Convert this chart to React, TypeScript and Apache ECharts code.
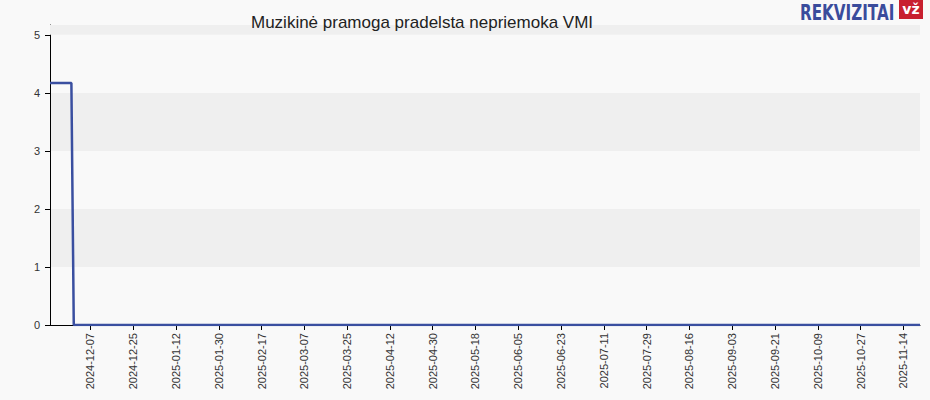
import React, { useEffect, useRef } from "react";
import * as echarts from "echarts";

const TITLE = "Muzikinė pramoga pradelsta nepriemoka VMI";
const START_DATE = "2024-11-20";
const END_DATE = "2025-11-21";
const FIRST_TICK_DATE = "2024-12-07";
const TICK_STEP_DAYS = 18;
// change points of the debt series [date, value]
const seriesPoints: [string, number][] = [
  ["2024-11-20", 4.17],
  ["2024-11-29", 4.17],
  ["2024-11-30", 0],
  ["2025-11-21", 0],
];
const yTicks = [0, 1, 2, 3, 4, 5];
const Y_MAX = 5.17;

function buildDays(start: string, end: string): string[] {
  const out: string[] = [];
  const d = new Date(start + "T00:00:00Z");
  const e = new Date(end + "T00:00:00Z");
  while (d.getTime() <= e.getTime()) {
    out.push(d.toISOString().slice(0, 10));
    d.setUTCDate(d.getUTCDate() + 1);
  }
  return out;
}

const days = buildDays(START_DATE, END_DATE);
const firstTickIdx = days.indexOf(FIRST_TICK_DATE);
const showTick = (i: number) => i >= firstTickIdx && (i - firstTickIdx) % TICK_STEP_DAYS === 0;

export default function App() {
  const ref = useRef<HTMLDivElement>(null);
  useEffect(() => {
    if (!ref.current) return;
    const chart = echarts.init(ref.current, undefined, { renderer: "svg" });
    chart.setOption({
      animation: false,
      backgroundColor: "#f9f9f9",
      textStyle: { fontFamily: "Arial, 'Liberation Sans', sans-serif" },
      grid: { left: 50, right: 10, top: 25, bottom: 75 },
      graphic: [
        {
          type: "text",
          x: 251,
          y: 14,
          z: 100,
          style: {
            text: TITLE,
            fill: "#222",
            font: "17px 'Liberation Sans', Arial, sans-serif",
            verticalAlign: "top",
          },
        },
        {
          type: "text",
          x: 800,
          y: 1,
          z: 100,
          scaleX: 0.69,
          style: {
            text: "REKVIZITAI",
            fill: "#3a4c9c",
            font: "bold 22px 'DejaVu Sans', sans-serif",
            verticalAlign: "top",
          },
        },
        {
          type: "rect",
          z: 100,
          shape: { x: 899, y: 0, width: 24, height: 19 },
          style: { fill: "#c8202f" },
        },
        {
          type: "text",
          x: 911,
          y: 2,
          z: 101,
          style: {
            text: "vž",
            fill: "#ffffff",
            font: "bold 14px 'DejaVu Sans', sans-serif",
            align: "center",
            verticalAlign: "top",
          },
        },
      ],
      xAxis: {
        type: "category",
        data: days,
        boundaryGap: false,
        axisLine: { lineStyle: { color: "#000", width: 1 } },
        axisTick: {
          interval: (i: number) => showTick(i),
          length: 5,
          lineStyle: { color: "#000" },
        },
        axisLabel: {
          interval: (i: number) => showTick(i),
          rotate: 90,
          fontSize: 11,
          color: "#333",
          margin: 8,
        },
        splitLine: { show: false },
      },
      yAxis: {
        type: "value",
        min: 0,
        max: Y_MAX,
        interval: 1,
        axisLine: { show: true, lineStyle: { color: "#000", width: 1 } },
        axisTick: { show: true, length: 5, customValues: yTicks, lineStyle: { color: "#000" } },
        axisLabel: { fontSize: 11, color: "#333", margin: 10, customValues: yTicks },
        splitLine: { show: false },
        splitArea: { show: true, areaStyle: { color: ["#f9f9f9", "#efefef"] } },
      },
      series: [
        {
          type: "line",
          data: seriesPoints,
          symbol: "none",
          lineStyle: { color: "#3a4fa0", width: 2.5 },
          markArea: {
            silent: true,
            itemStyle: { color: "#efefef" },
            data: [[{ yAxis: 5 }, { yAxis: Y_MAX }]],
          },
        },
      ],
    });
    return () => chart.dispose();
  }, []);
  return (
    <div
      ref={ref}
      style={{ position: "fixed", left: 0, top: 0, width: 930, height: 400 }}
    />
  );
}
